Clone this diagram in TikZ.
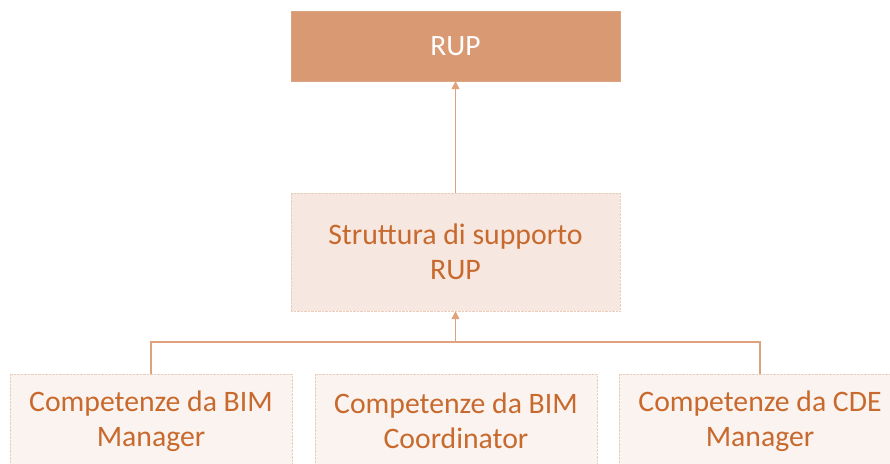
\documentclass[tikz,border=0pt]{standalone}
\usepackage{fontspec}
\setmainfont{Carlito}
\usetikzlibrary{arrows.meta}
\definecolor{topfill}{HTML}{D99A73}
\definecolor{midfill}{HTML}{F6E8E0}
\definecolor{lowfill}{HTML}{FAF3EF}
\definecolor{edgecol}{HTML}{EBCDBB}
\definecolor{txtcol}{HTML}{C8692D}
\definecolor{linecol}{HTML}{E0A27C}
\tikzset{
  topbox/.style={draw=topfill!90!white, fill=topfill, minimum width=329pt, minimum height=70pt, inner sep=0pt, text=white, font=\fontsize{29.5}{35}\selectfont},
  midbox/.style={draw=edgecol, densely dotted, fill=midfill, minimum width=329pt, minimum height=118pt, inner sep=0pt, text=txtcol, align=center, font=\fontsize{29.8}{35}\selectfont},
  lowbox/.style={draw=edgecol, densely dotted, fill=lowfill, minimum width=282pt, minimum height=94pt, inner sep=0pt, text=txtcol, align=center, font=\fontsize{29.7}{35}\selectfont},
  conn/.style={draw=linecol, line width=1.4pt},
  connarrow/.style={conn, -{Triangle[length=8pt,width=8pt]}}
}
\begin{document}
\begin{tikzpicture}[x=1pt,y=-1pt]
\useasboundingbox (0,0) rectangle (890,463);
\clip (0,0) rectangle (890,463);
\node[topbox] (rup) at (455.5,46) {RUP};
\node[midbox] (mid) at (455.5,252) {Struttura di supporto\\RUP};
\node[lowbox] (bm) at (151,421) {Competenze da BIM\\Manager};
\node[lowbox] (bc) at (456,421) {Competenze da BIM\\Coordinator};
\node[lowbox] (cm) at (760,421) {Competenze da CDE\\Manager};
\coordinate (jl) at (151,342);
\coordinate (jr) at (760,342);
\coordinate (jm) at (455.5,342);
\draw[connarrow] (mid.north) -- (rup.south);
\draw[conn] (bm.north) -- (jl) -- (jr) -- (cm.north);
\draw[connarrow] (jm) -- (mid.south);
\end{tikzpicture}
\end{document}
